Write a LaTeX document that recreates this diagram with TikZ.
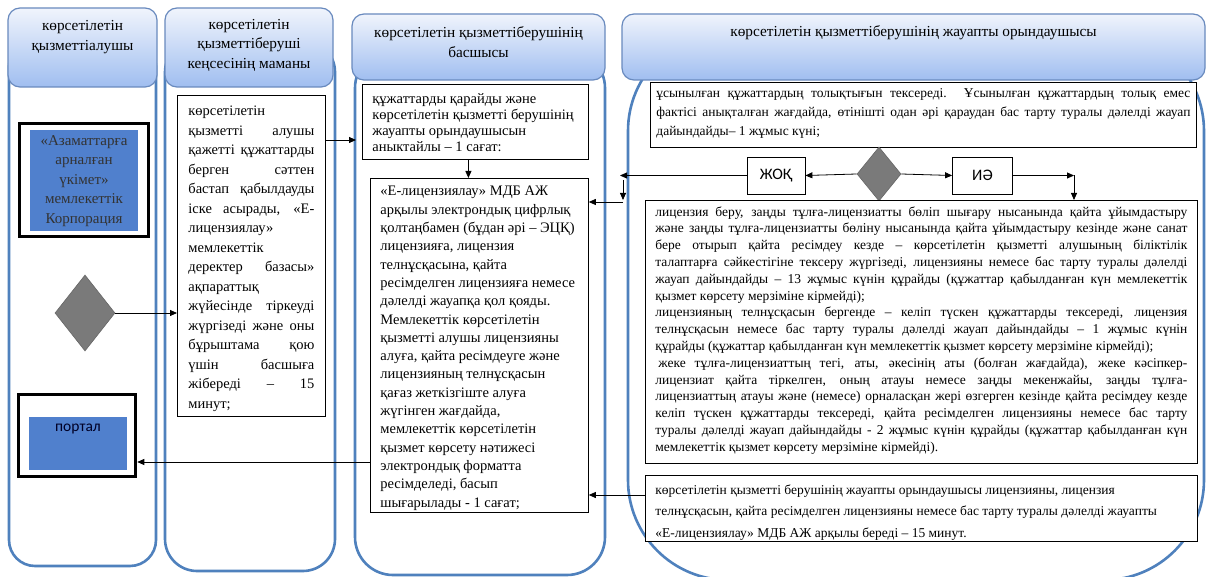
\documentclass[tikz,border=0pt]{standalone}
\usepackage{fontspec}
\setmainfont{Liberation Serif}
\newfontfamily\sansf{Carlito}
\usetikzlibrary{arrows.meta,shapes.geometric,calc}
\definecolor{lanec}{RGB}{79,129,189}
\definecolor{hdtop}{RGB}{240,244,252}
\definecolor{hdbot}{RGB}{160,190,240}
\definecolor{hdline}{RGB}{105,138,190}
\definecolor{bfill}{RGB}{80,128,205}
\definecolor{dgray}{RGB}{122,122,122}
\newcommand\tb[3]{\begin{minipage}[t][#2][t]{#1}\hyphenpenalty=10000 \exhyphenpenalty=10000 \tolerance=9999 \hbadness=10000 #3\end{minipage}}
\begin{document}
\begin{tikzpicture}[x=1pt,y=-1pt,
  lane/.style={draw=lanec,line width=2.6pt},
  hdr/.style={draw=hdline,line width=1.2pt,rounded corners=12pt,top color=hdtop,bottom color=hdbot,inner sep=0pt},
  htxt/.style={align=center,inner sep=0pt,font=\fontsize{15.3}{19.5}\selectfont},
  box/.style={draw=black,line width=0.8pt,fill=white,anchor=north west},
  arr/.style={-{Triangle[length=7pt,width=6pt]},line width=0.8pt},
  dia/.style={diamond,draw=black!60,fill=dgray,line width=0.6pt,inner sep=0pt},
  yn/.style={draw=black,line width=0.8pt,fill=white,inner sep=0pt,font=\sansf\fontsize{16}{16}\selectfont}]
\useasboundingbox (0,0) rectangle (1208,577);
\clip (0,0) rectangle (1208,577);
\fill[white] (0,0) rectangle (1208,577);
% lanes
\draw[lane,rounded corners=26pt] (9,40) rectangle (156,566);
\draw[lane,rounded corners=32pt] (165,40) rectangle (335,571);
\draw[lane,rounded corners=38pt] (355,50) rectangle (605,575);
\draw[lane,rounded corners=100pt] (628,31) rectangle (1204,580);
% headers
\node[hdr,minimum width=149pt,minimum height=79pt] (h1) at (82.5,47.5) {};
\node[hdr,minimum width=168pt,minimum height=79pt] (h2) at (249,47.5) {};
\node[hdr,minimum width=253pt,minimum height=66pt] (h3) at (478.5,47) {};
\node[hdr,minimum width=583pt,minimum height=66pt] (h4) at (913.5,47) {};
\node[htxt] (h1t) at (82.5,37) {көрсетілетін\\қызметтіалушы};
\node[htxt] (h2t) at (249,45) {көрсетілетін\\қызметтіберуші\\кеңсесінің маманы};
\node[htxt] (h3t) at (478.5,42) {көрсетілетін қызметтіберушінің\\басшысы};
\node[htxt] (h4t) at (913.5,33) {көрсетілетін қызметтіберушінің жауапты орындаушысы};
% lane 1
\node[draw=black,line width=3.5pt,minimum width=129pt,minimum height=113pt,inner sep=0pt] (az) at (84,180) {};
\node[fill=bfill,minimum width=108pt,minimum height=101pt,inner sep=0pt,align=center,text=black!80,font=\fontsize{15}{19.5}\selectfont] (azt) at (84,181) {«Азаматтарға\\арналған\\үкімет»\\мемлекеттік\\Корпорация};
\node[dia,minimum width=60pt,minimum height=76pt] (d1) at (85,313) {};
\node[draw=black,line width=3.5pt,minimum width=117pt,minimum height=82pt,inner sep=0pt] (portal) at (77,435.5) {};
\node[fill=bfill,minimum width=98pt,minimum height=53pt,inner sep=0pt] (portalin) at (78,443.5) {};
\node[inner sep=0pt,font=\sansf\fontsize{15.5}{15.5}\selectfont,text=black!85!blue] (portalt) at (78,429) {портал};
% lane 2
\node[box,inner xsep=11pt,inner ysep=11pt] (l2b) at (177,95) {\tb{126pt}{299pt}{\fontsize{14.5}{19.5}\selectfont
көрсетілетін\linebreak қызметті алушы\linebreak қажетті құжаттарды\linebreak берген сәттен\linebreak бастап қабылдауды\linebreak іске асырады, «Е-\linebreak лицензиялау»\linebreak мемлекеттік\linebreak деректер базасы»\linebreak ақпараттық\linebreak жүйесінде тіркеуді\linebreak жүргізеді және оны\linebreak бұрыштама қою\linebreak үшін басшыға\linebreak жібереді – 15\linebreak минут;}};
% lane 3
\node[box,inner xsep=10pt,inner ysep=9pt] (b1) at (362,84) {\tb{206pt}{57pt}{\raggedright\fontsize{14.5}{16.2}\selectfont
құжаттарды қарайды және\\көрсетілетін қызметті берушінің\\жауапты орындаушысын\\аныктайлы – 1 сағат:}};
\node[box,inner xsep=10pt,inner ysep=8pt] (b2) at (370,178) {\tb{198pt}{318pt}{\raggedright\fontsize{14.5}{18.3}\selectfont
«Е-лицензиялау» МДБ АЖ\\арқылы электрондық цифрлық\\қолтаңбамен (бұдан әрі – ЭЦҚ)\\лицензияға, лицензия\\телнұсқасына, қайта\\ресімделген лицензияға немесе\\дәлелді жауапқа қол қояды.\\Мемлекеттік көрсетілетін\\қызметті алушы лицензияны\\алуға, қайта ресімдеуге және\\лицензияның телнұсқасын\\қағаз жеткізгіште алуға\\жүгінген жағдайда,\\мемлекеттік көрсетілетін\\қызмет көрсету нәтижесі\\электрондық форматта\\ресімделеді, басып\\шығарылады - 1 сағат;}};
% lane 4
\node[box,inner xsep=6pt,inner ysep=6pt] (t4) at (650,82) {\tb{534pt}{53pt}{\fontsize{13.5}{19}\selectfont
ұсынылған құжаттардың толықтығын тексереді. Ұсынылған құжаттардың толық емес\linebreak фактісі анықталған жағдайда, өтінішті одан әрі қараудан бас тарту туралы дәлелді жауап\linebreak дайындайды– 1 жұмыс күні;}};
\node[dia,minimum width=44pt,minimum height=54pt] (d4) at (879,174) {};
\node[yn,minimum width=58pt,minimum height=37pt] (jok) at (776,175.5) {ЖОҚ};
\node[yn,minimum width=60pt,minimum height=37pt] (ie) at (982.5,175.5) {ИӘ};
\node[box,inner xsep=10pt,inner ysep=6pt] (big) at (645,200) {\tb{532pt}{251pt}{\fontsize{13.5}{16.8}\selectfont
лицензия беру, заңды тұлға-лицензиатты бөліп шығару нысанында қайта ұйымдастыру\linebreak және заңды тұлға-лицензиатты бөліну нысанында қайта ұйымдастыру кезінде және санат\linebreak бере отырып қайта ресімдеу кезде – көрсетілетін қызметті алушының біліктілік\linebreak талаптарға сәйкестігіне тексеру жүргізеді, лицензияны немесе бас тарту туралы дәлелді\linebreak жауап дайындайды – 13 жұмыс күнін құрайды (құжаттар қабылданған күн мемлекеттік\linebreak қызмет көрсету мерзіміне кірмейді);\par
лицензияның телнұсқасын бергенде – келіп түскен құжаттарды тексереді, лицензия\linebreak телнұсқасын немесе бас тарту туралы дәлелді жауап дайындайды – 1 жұмыс күнін\linebreak құрайды (құжаттар қабылданған күн мемлекеттік қызмет көрсету мерзіміне кірмейді);\par
\hspace*{3pt}жеке тұлға-лицензиаттың тегі, аты, әкесінің аты (болған жағдайда), жеке кәсіпкер-\linebreak лицензиат қайта тіркелген, оның атауы немесе заңды мекенжайы, заңды тұлға-\linebreak лицензиаттың атауы және (немесе) орналасқан жері өзгерген кезінде қайта ресімдеу кезде\linebreak келіп түскен құжаттарды тексереді, қайта ресімделген лицензияны немесе бас тарту\linebreak туралы дәлелді жауап дайындайды - 2 жұмыс күнін құрайды (құжаттар қабылданған күн\linebreak мемлекеттік қызмет көрсету мерзіміне кірмейді).}};
\node[box,inner xsep=10pt,inner ysep=9pt] (bot) at (645,475) {\tb{532pt}{48pt}{\raggedright\fontsize{13.5}{21.5}\selectfont
көрсетілетін қызметті берушінің жауапты орындаушысы лицензияны, лицензия\\телнұсқасын, қайта ресімделген лицензияны немесе бас тарту туралы дәлелді жауапты\\«Е-лицензиялау» МДБ АЖ арқылы береді – 15 минут.}};
% helper coordinates
\coordinate (jl) at (620,175.5);
\coordinate (jv) at (623,180);
\coordinate (jh) at (623,202);
\coordinate (ir) at (1074,175.5);
% connectors
\draw[arr] (d1.east) -- (l2b.west |- d1.east);
\draw[arr,shorten >=6pt] (l2b.east |- 0,140) -- (b1.west |- 0,140);
\draw[arr] ([xshift=-7pt]b1.south) -- ([xshift=-7pt]b1.south |- b2.north);
\draw[arr] (b2.west |- 0,462) -- (portal.east |- 0,462);
\draw[arr] (d4.west) -- (jok.east);
\draw[arr] (d4.east) -- (ie.west);
\draw[arr] (jok.west) -- (jl);
\draw[arr] (jv) -- (jv |- big.north);
\draw[arr] (jh) -- (b2.east |- jh);
\draw[arr] (ie.east) -- (ir);
\draw[arr] (ir) -- (ir |- big.north);
\draw[arr] (bot.west |- 0,495) -- (b2.east |- 0,495);
\end{tikzpicture}
\end{document}
